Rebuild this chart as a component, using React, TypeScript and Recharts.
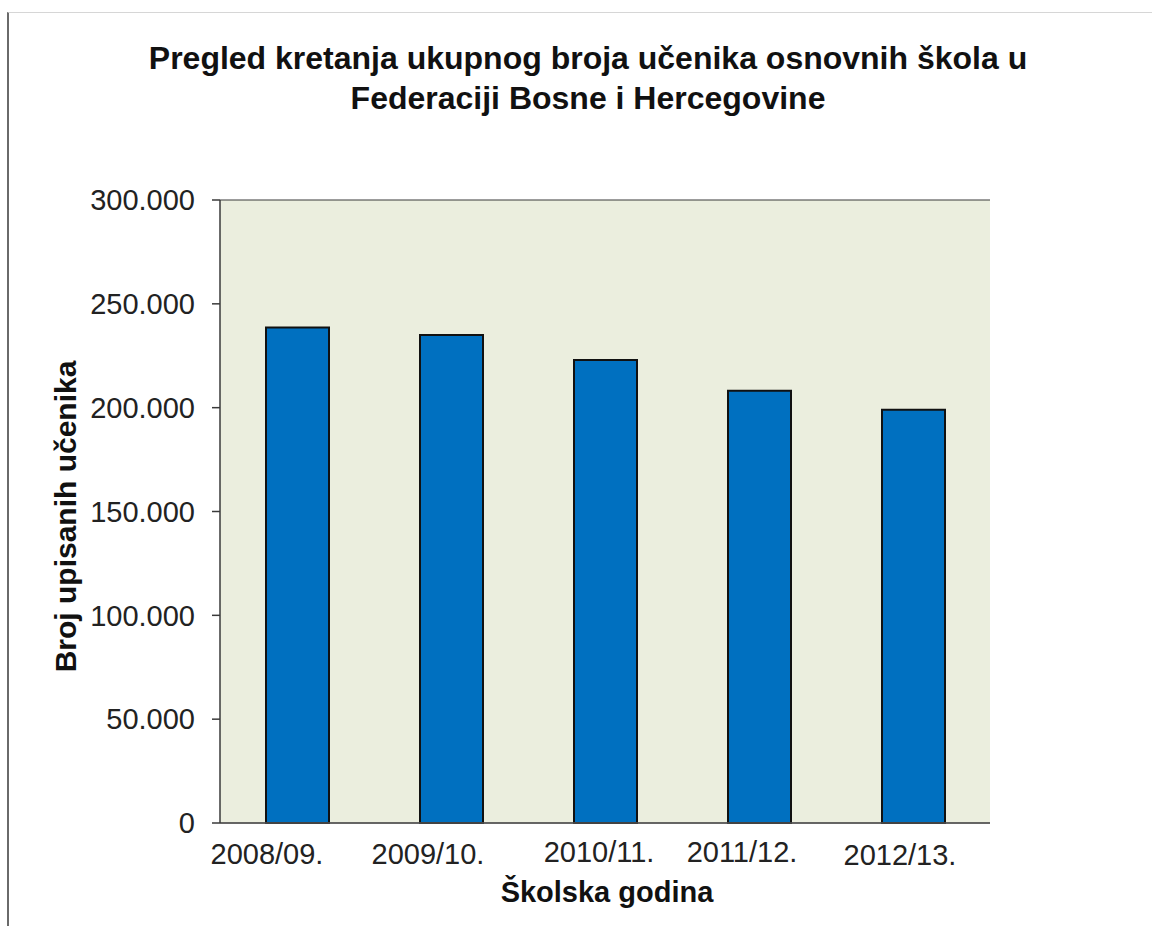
import React from 'react';
import { BarChart, Bar, XAxis, YAxis, CartesianGrid } from 'recharts';

const years = ['2008/09.', '2009/10.', '2010/11.', '2011/12.', '2012/13.'];
const students = [238600, 235000, 222900, 208200, 199000];
const yTicks = [0, 50000, 100000, 150000, 200000, 250000, 300000];

const data = years.map((y, i) => ({ year: y, value: students[i] }));

const FONT = '"Liberation Sans", Arial, sans-serif';

// small horizontal/vertical nudges of the category labels as drawn in the original
const TICK_DX = [-30, -23, -6, -17, -13];
const TICK_DY = [0, 0, -2, -2, 1];

const fmt = (v: number) => (v === 0 ? '0' : `${Math.round(v / 1000)}.000`);

const XTick = (props: any) => {
  const { x, y, payload, index } = props;
  return (
    <text
      x={x + (TICK_DX[index] ?? 0)}
      y={y + (TICK_DY[index] ?? 0)}
      dy="0.71em"
      textAnchor="middle"
      fontSize={29}
      fontFamily={FONT}
      fill="#222"
    >
      {payload.value}
    </text>
  );
};

const YLabel = (props: any) => {
  const vb = props.viewBox || {};
  const cx = vb.x - 14;
  const cy = vb.y + vb.height / 2 + 5;
  return (
    <text
      x={cx}
      y={cy}
      transform={`rotate(-90 ${cx} ${cy})`}
      textAnchor="middle"
      fontSize={30}
      fontWeight="bold"
      fontFamily={FONT}
      fill="#111"
    >
      Broj upisanih učenika
    </text>
  );
};

const XLabel = (props: any) => {
  const vb = props.viewBox || {};
  return (
    <text
      x={vb.x + vb.width / 2 + 2}
      y={902}
      textAnchor="middle"
      fontSize={29}
      fontWeight="bold"
      fontFamily={FONT}
      fill="#111"
    >
      Školska godina
    </text>
  );
};

export default function App() {
  return (
    <div style={{ position: 'absolute', left: 0, top: 0, width: 1152, height: 926, background: '#fff' }}>
      <div
        style={{
          position: 'absolute',
          left: 7,
          top: 12,
          width: 1145,
          height: 914,
          borderLeft: '2px solid #6a6a6a',
          borderTop: '1px solid #d6d6d6',
          boxSizing: 'border-box',
        }}
      />
      <div
        style={{
          position: 'absolute',
          left: 0,
          top: 38,
          width: 1176,
          textAlign: 'center',
          fontFamily: FONT,
          fontWeight: 'bold',
          fontSize: 32,
          lineHeight: '40px',
          color: '#111',
        }}
      >
        Pregled kretanja ukupnog broja učenika osnovnih škola u
        <br />
        Federaciji Bosne i Hercegovine
      </div>
      <div style={{ position: 'absolute', left: 0, top: 0 }}>
        <BarChart
          width={1152}
          height={926}
          data={data}
          margin={{ top: 200, right: 162, bottom: 53, left: 90 }}
        >
          <CartesianGrid vertical={false} fill="#EBEEDE" stroke="#3a3a3a" strokeWidth={1.2} />
          <XAxis
            dataKey="year"
            height={50}
            tickLine={false}
            tickSize={0}
            tickMargin={20}
            axisLine={{ stroke: '#555', strokeWidth: 1.5 }}
            tick={<XTick />}
            interval={0}
            label={<XLabel />}
          />
          <YAxis
            yAxisId="left"
            width={130}
            domain={[0, 300000]}
            ticks={yTicks}
            tickFormatter={fmt}
            tickSize={8}
            tickMargin={17}
            tick={{ fontSize: 29, fontFamily: FONT, fill: '#222' }}
            tickLine={{ stroke: '#3a3a3a', strokeWidth: 1.5 }}
            axisLine={{ stroke: '#3a3a3a', strokeWidth: 1.5 }}
            label={<YLabel />}
            interval={0}
          />
          <YAxis
            yAxisId="right"
            orientation="right"
            width={0}
            domain={[0, 300000]}
            tick={false}
            tickLine={false}
            axisLine={{ stroke: '#8a8a8a', strokeWidth: 1.5 }}
          />
          <Bar
            yAxisId="left"
            dataKey="value"
            fill="#0070C0"
            stroke="#111"
            strokeWidth={2}
            barSize={63}
            isAnimationActive={false}
          />
        </BarChart>
      </div>
    </div>
  );
}
